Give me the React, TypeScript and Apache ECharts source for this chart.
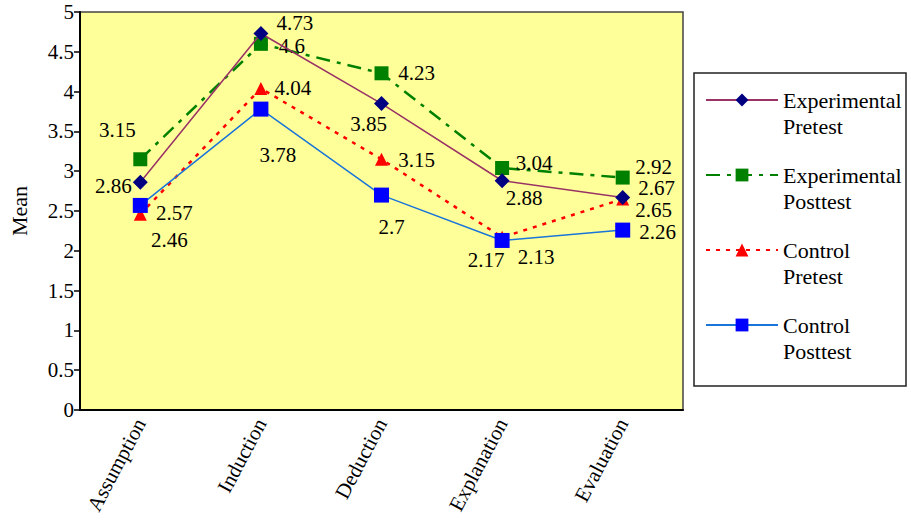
import React, { useEffect, useRef } from "react";
import * as echarts from "echarts";

const categories = ["Assumption", "Induction", "Deduction", "Explanation", "Evaluation"];
const seriesNames = ["Experimental\nPretest", "Experimental\nPosttest", "Control\nPretest", "Control\nPosttest"];
const expPre = [2.86, 4.73, 3.85, 2.88, 2.67];
const expPost = [3.15, 4.6, 4.23, 3.04, 2.92];
const ctrlPre = [2.46, 4.04, 3.15, 2.17, 2.65];
const ctrlPost = [2.57, 3.78, 2.7, 2.13, 2.26];
const yTicks = { min: 0, max: 5, interval: 0.5 };

// label offsets (layout only)
const offExpPre = [[-27, 4], [34, -10], [-13, 20], [22, 17], [34, -9]];
const offExpPost = [[-23, -29], [31, 2], [35, 0], [32, -5], [31, -11]];
const offCtrlPre = [[29, 26], [32, 0], [35, 1], [-16, 23], [31, 11]];
const offCtrlPost = [[34, 8], [17, 46], [10, 32], [34, 17], [35, 2]];

const FONT = "'Liberation Serif', 'Times New Roman', 'DejaVu Serif', serif";

function withLabels(values: number[], offs: number[][]) {
  return values.map((v, i) => ({
    value: v,
    label: {
      show: true,
      position: "inside",
      offset: offs[i],
      formatter: String(v),
      color: "#000",
      fontFamily: FONT,
      fontSize: 21,
    },
  }));
}

export default function App() {
  const ref = useRef<HTMLDivElement>(null);
  useEffect(() => {
    if (!ref.current) return;
    const chart = echarts.init(ref.current, undefined, { renderer: "svg" });
    chart.setOption({
      animation: false,
      backgroundColor: "#ffffff",
      textStyle: { fontFamily: FONT },
      grid: {
        left: 78,
        top: 12,
        right: 228,
        bottom: 111,
        show: true,
        backgroundColor: "#FFFF99",
        borderColor: "#444",
        borderWidth: 1.5,
      },
      graphic: [
        {
          type: "rect",
          shape: { x: 694, y: 73, width: 212, height: 313 },
          style: { fill: "#fff", stroke: "#222", lineWidth: 1.5 },
          z: 0,
        },
      ],
      legend: {
        orient: "vertical",
        left: 705,
        top: 61,
        padding: 0,
        itemWidth: 72,
        itemHeight: 16,
        itemGap: -3,
        formatter: (name: string) => "\n" + name,
        textStyle: {
          fontFamily: FONT,
          fontSize: 22,
          color: "#000",
          lineHeight: 26,
        },
        data: seriesNames,
      },
      xAxis: {
        type: "category",
        data: categories,
        boundaryGap: true,
        axisLine: { lineStyle: { color: "#000", width: 2 } },
        axisTick: { inside: true, length: 5, lineStyle: { color: "#000", width: 1.5 } },
        axisLabel: {
          rotate: 62,
          color: "#000",
          fontFamily: FONT,
          fontSize: 21,
          margin: 10,
          interval: 0,
        },
      },
      yAxis: {
        type: "value",
        min: yTicks.min,
        max: yTicks.max,
        interval: yTicks.interval,
        name: "Mean",
        nameLocation: "middle",
        nameGap: 50,
        nameTextStyle: { fontFamily: FONT, fontSize: 22, color: "#000" },
        splitLine: { show: false },
        axisLine: { show: true, lineStyle: { color: "#000", width: 2 } },
        axisTick: { show: true, length: 6, lineStyle: { color: "#000", width: 1.5 } },
        axisLabel: { color: "#000", fontFamily: FONT, fontSize: 21, margin: 6 },
      },
      series: [
        {
          name: seriesNames[0],
          type: "line",
          data: withLabels(expPre, offExpPre),
          symbol: "diamond",
          symbolSize: 15,
          lineStyle: { color: "#993366", width: 1.5 },
          itemStyle: { color: "#000080" },
          z: 4,
        },
        {
          name: seriesNames[1],
          type: "line",
          data: withLabels(expPost, offExpPost),
          symbol: "rect",
          symbolSize: 14,
          lineStyle: { color: "#008000", width: 2.5, type: [14, 7, 4, 7] },
          itemStyle: { color: "#008000" },
          z: 3,
        },
        {
          name: seriesNames[2],
          type: "line",
          data: withLabels(ctrlPre, offCtrlPre),
          symbol: "triangle",
          symbolSize: 13,
          lineStyle: { color: "#FF0000", width: 2.5, type: [4, 6] },
          itemStyle: { color: "#FF0000" },
          z: 2,
        },
        {
          name: seriesNames[3],
          type: "line",
          data: withLabels(ctrlPost, offCtrlPost),
          symbol: "rect",
          symbolSize: 15,
          lineStyle: { color: "#1A75D9", width: 1.5 },
          itemStyle: { color: "#0000FF" },
          z: 5,
        },
      ],
    });
    return () => chart.dispose();
  }, []);
  return (
    <div
      ref={ref}
      style={{ position: "absolute", left: 0, top: 0, width: 911, height: 521 }}
    />
  );
}
